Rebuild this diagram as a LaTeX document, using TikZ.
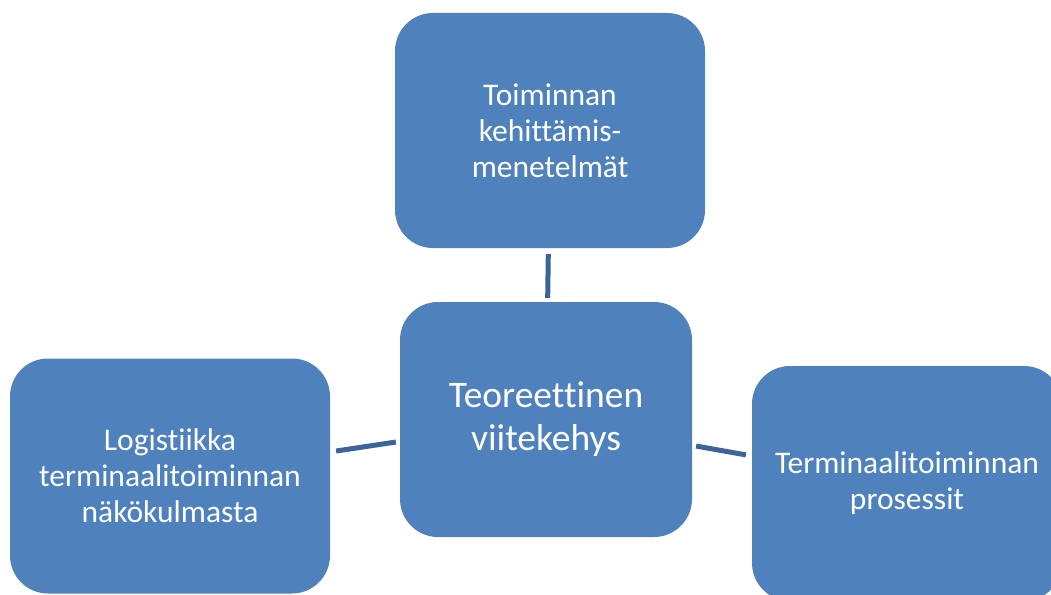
\documentclass[tikz,border=0pt]{standalone}
\usepackage{fontspec}
\setmainfont{Carlito}[Ligatures=NoCommon, RawFeature={-liga;-clig;-calt;-dlig}]
\usepackage{tikz}
\usetikzlibrary{positioning}

\definecolor{boxblue}{RGB}{79,129,189}
\definecolor{linkblue}{RGB}{60,100,152}

\begin{document}
\begin{tikzpicture}[
        x=1pt, y=-1pt,
        block/.style={rectangle, fill=boxblue, text=white, rounded corners=38pt,
                      minimum width=310pt, minimum height=235pt, align=center,
                      font=\fontsize{31.5}{36}\selectfont},
        mainblock/.style={block, minimum width=292pt, font=\fontsize{37.5}{43}\selectfont},
        link/.style={draw=linkblue, line width=5pt, shorten <=6pt, shorten >=4pt}
    ]
        \useasboundingbox (0,0) rectangle (1051,594);
        \clip (0,0) rectangle (1051,594);

        \node[mainblock] (theory) at (546,419.5) {Teoreettinen\\viitekehys};
        \node[block] (methods) at (550,130.5) {Toiminnan\\kehittämis-\\menetelmät};
        \node[block, minimum width=320pt] (logistics) at (170,476) {Logistiikka\\terminaalitoiminnan\\näkökulmasta};
        \node[block] (processes) at (907,483.5) {Terminaalitoiminnan\\prosessit};

        \draw[link] (methods) -- (theory);
        \draw[link] (logistics) -- (theory);
        \draw[link] (processes) -- (theory);
    \end{tikzpicture}
\end{document}
